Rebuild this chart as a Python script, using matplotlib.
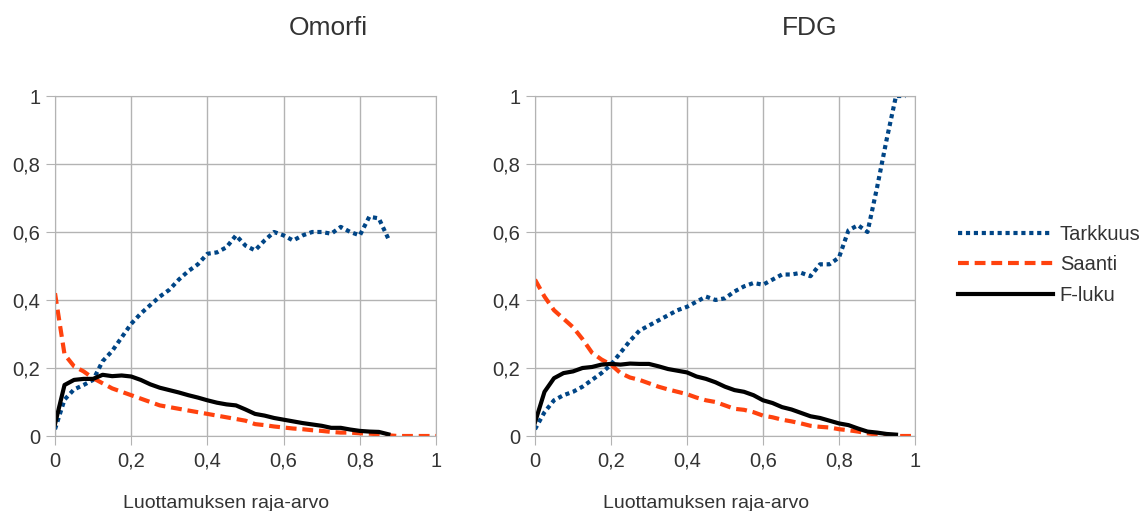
import numpy as np
import matplotlib.pyplot as plt

plt.rcParams['font.family'] = ['Liberation Sans', 'DejaVu Sans']

# Omorfi
omorfi_x = [i * 0.025 for i in range(41)]
omorfi_tarkkuus = [0.02, 0.107, 0.137, 0.15, 0.165, 0.22, 0.25, 0.29, 0.33, 0.36,
                   0.385, 0.41, 0.43, 0.46, 0.485, 0.505, 0.536, 0.54, 0.555, 0.59,
                   0.56, 0.546, 0.575, 0.6, 0.59, 0.575, 0.59, 0.6, 0.6, 0.595,
                   0.615, 0.6, 0.59, 0.645, 0.64, 0.58]
omorfi_saanti = [0.42, 0.24, 0.205, 0.19, 0.17, 0.155, 0.14, 0.13, 0.12, 0.11,
                 0.1, 0.09, 0.085, 0.08, 0.075, 0.07, 0.065, 0.06, 0.055, 0.05,
                 0.045, 0.035, 0.032, 0.028, 0.025, 0.022, 0.02, 0.017, 0.015, 0.012,
                 0.01, 0.01, 0.008, 0.007, 0.005, 0.002, 0.0, 0.0, 0.0, 0.0, 0.0]
omorfi_f = [0.035, 0.15, 0.165, 0.168, 0.168, 0.18, 0.176, 0.178, 0.175, 0.165,
            0.152, 0.142, 0.135, 0.128, 0.12, 0.113, 0.105, 0.098, 0.093, 0.09,
            0.078, 0.065, 0.06, 0.053, 0.048, 0.043, 0.038, 0.034, 0.03, 0.024,
            0.024, 0.019, 0.015, 0.013, 0.012, 0.005]

# FDG
fdg_x = [i * 0.025 for i in range(41)]
fdg_tarkkuus = [0.02, 0.07, 0.105, 0.12, 0.13, 0.145, 0.165, 0.185, 0.21, 0.245,
                0.28, 0.31, 0.325, 0.34, 0.355, 0.37, 0.38, 0.395, 0.41, 0.4,
                0.405, 0.425, 0.44, 0.45, 0.445, 0.46, 0.475, 0.475, 0.48, 0.47,
                0.505, 0.505, 0.525, 0.605, 0.62, 0.6, 0.73, 0.87, 1.0, 1.0]
fdg_saanti = [0.46, 0.41, 0.37, 0.345, 0.32, 0.285, 0.245, 0.225, 0.21, 0.185,
              0.172, 0.165, 0.155, 0.145, 0.137, 0.13, 0.123, 0.113, 0.105, 0.1,
              0.09, 0.08, 0.077, 0.07, 0.06, 0.055, 0.048, 0.043, 0.037, 0.03,
              0.027, 0.025, 0.02, 0.017, 0.013, 0.008, 0.004, 0.002, 0.0, 0.0, 0.0]
fdg_f = [0.04, 0.13, 0.17, 0.185, 0.19, 0.2, 0.203, 0.21, 0.212, 0.21,
         0.213, 0.212, 0.212, 0.205, 0.197, 0.192, 0.187, 0.175, 0.168, 0.158,
         0.145, 0.135, 0.13, 0.12, 0.105, 0.097, 0.085, 0.078, 0.068, 0.058,
         0.053, 0.045, 0.037, 0.032, 0.022, 0.013, 0.01, 0.006, 0.004]

ticks = [0, 0.2, 0.4, 0.6, 0.8, 1]
tick_labels = ['0', '0,2', '0,4', '0,6', '0,8', '1']

text_color = '#333333'
grid_color = '#b3b3b3'

fig = plt.figure(figsize=(11.46, 5.11), dpi=100)
W, H = 1146, 511
ax1 = fig.add_axes([55 / W, 1 - 436 / H, 381 / W, 340 / H])
ax2 = fig.add_axes([535 / W, 1 - 436 / H, 380 / W, 340 / H])


def draw(ax, x, tark, saanti, f):
    ax.plot(x[:len(tark)], tark, color='#004586', lw=3, ls=(0, (1.0, 0.9)),
            label='Tarkkuus', dash_capstyle='butt')
    ax.plot(x[:len(saanti)], saanti, color='#ff420e', lw=3, ls=(0, (2.6, 1.4)),
            label='Saanti', dash_capstyle='butt')
    ax.plot(x[:len(f)], f, color='#000000', lw=3, label='F-luku')
    ax.set_xlim(0, 1)
    ax.set_ylim(0, 1)
    ax.set_xticks(ticks)
    ax.set_xticklabels(tick_labels)
    ax.set_yticks(ticks)
    ax.set_yticklabels(tick_labels)
    ax.grid(True, color=grid_color, lw=1)
    ax.set_axisbelow(True)
    for s in ax.spines.values():
        s.set_color(grid_color)
    ax.tick_params(colors=grid_color, labelcolor=text_color, labelsize=14.5,
                   length=6.5)
    ax.tick_params(axis='y', pad=4)
    ax.tick_params(axis='x', pad=5)


draw(ax1, omorfi_x, omorfi_tarkkuus, omorfi_saanti, omorfi_f)
draw(ax2, fdg_x, fdg_tarkkuus, fdg_saanti, fdg_f)

fig.text(328 / W, 1 - 28 / H, 'Omorfi', ha='center', va='center', fontsize=19, color=text_color)
fig.text(810 / W, 1 - 28 / H, 'FDG', ha='center', va='center', fontsize=19, color=text_color)
fig.text(226 / W, 1 - 504 / H, 'Luottamuksen raja-arvo', ha='center', va='center',
         fontsize=14, color=text_color)
fig.text(706 / W, 1 - 504 / H, 'Luottamuksen raja-arvo', ha='center', va='center',
         fontsize=14, color=text_color)

handles, labels = ax2.get_legend_handles_labels()
fig.legend(handles, labels, loc='center left', bbox_to_anchor=(950 / W, 1 - 265 / H),
           frameon=False, fontsize=14.5, handlelength=4.7, labelcolor=text_color,
           handletextpad=0.35, labelspacing=0.55, borderaxespad=0)

fig.savefig('out.png', dpi=100)
